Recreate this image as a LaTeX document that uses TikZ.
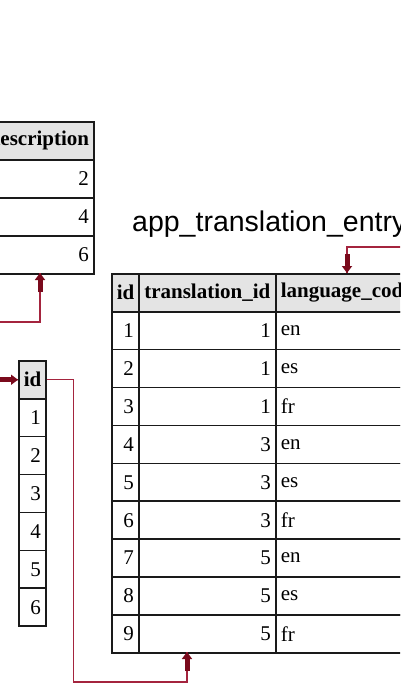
\documentclass[tikz,border=0pt]{standalone}
\usepackage{fontspec}
\setmainfont{Liberation Serif}
\newfontfamily\titlefont{Liberation Sans}
\usetikzlibrary{arrows.meta}
\definecolor{tableline}{HTML}{1A1A1A}
\definecolor{hdrgray}{HTML}{E4E4E4}
\definecolor{fkdark}{HTML}{7A0A1C}
\definecolor{fkline}{HTML}{A4243E}
\newcommand{\cellfont}{\fontsize{21}{25}\selectfont}
\tikzset{
  cell/.style={draw=tableline, line width=1.6pt, anchor=north west, minimum height=37.9pt,
    inner xsep=5pt, inner ysep=0pt, font=\cellfont},
  hdr/.style={cell, fill=hdrgray, font=\cellfont\bfseries},
  fkthin/.style={draw=fkline, line width=1.2pt},
  fkhead/.style={draw=fkdark, line width=5pt, -{Triangle[length=7pt,width=10pt]}},
}
\begin{document}
\begin{tikzpicture}[x=1pt,y=-1pt]
\useasboundingbox (0,0) rectangle (400,700);
\clip (0,0) rectangle (400,700);
\fill[white] (0,0) rectangle (400,700);

% table with description column (left, cut)
\node[hdr, text width=100pt, align=center] (dh) at (-17,121) {description};
\foreach \i/\v in {1/2,2/4,3/6} {
  \pgfmathsetmacro\yy{121+38*\i}
  \node[cell, text width=100pt, align=right] (d\i) at (-17,\yy) {\v};
}

% id table
\node[hdr, text width=17pt, align=center] (idh) at (18,360) {id};
\foreach \i in {1,...,6} {
  \pgfmathsetmacro\yy{360+37.9*\i}
  \node[cell, text width=17pt, align=right] (id\i) at (18,\yy) {\i};
}

% app_translation_entry
\node[anchor=base west, font=\titlefont\fontsize{28.5}{33}\selectfont, inner sep=0pt] (title) at (132,232) {app\_translation\_entry};
\node[hdr, text width=17pt, align=center] (bh1) at (111,273) {id};
\node[hdr, text width=131pt, inner xsep=3pt, align=center] (bh2) at (138,273) {translation\_id};
\node[hdr, text width=127pt, align=center] (bh3) at (275,273) {language\_code};
\foreach \i/\t/\l in {1/1/en,2/1/es,3/1/fr,4/3/en,5/3/es,6/3/fr,7/5/en,8/5/es,9/5/fr} {
  \pgfmathsetmacro\yy{273+37.9*\i}
  \node[cell, text width=17pt, align=right] (bi\i) at (111,\yy) {\i};
  \node[cell, text width=127pt, align=right] (bt\i) at (138,\yy) {\t};
  \node[cell, text width=127pt, align=left] (bl\i) at (275,\yy) {\l};
}

% connector free ends and bends
\coordinate (inA) at (-20,322);
\coordinate (tA) at (40,273);
\coordinate (inId) at (-20,380);
\coordinate (tT) at (187,652);
\coordinate (inL) at (420,247);
\coordinate (tL) at (347,273);

% connector into description table
\draw[fkthin] (inA) -| (tA);
\draw[fkhead] ([yshift=-19pt]tA) -- (tA);
% connector into id table
\draw[fkthin] (inId) -- (idh.west);
\draw[fkhead] ([xshift=-19pt]idh.west) -- (idh.west);
% id -> translation_id
\draw[fkthin] (idh.east) -- ++(27,0) |- ([yshift=-30pt]tT) -- (tT);
\draw[fkhead] ([yshift=-19pt]tT) -- (tT);
% into language_code
\draw[fkthin] (inL) -| (tL);
\draw[fkhead] ([yshift=19pt]tL) -- (tL);
\end{tikzpicture}
\end{document}
